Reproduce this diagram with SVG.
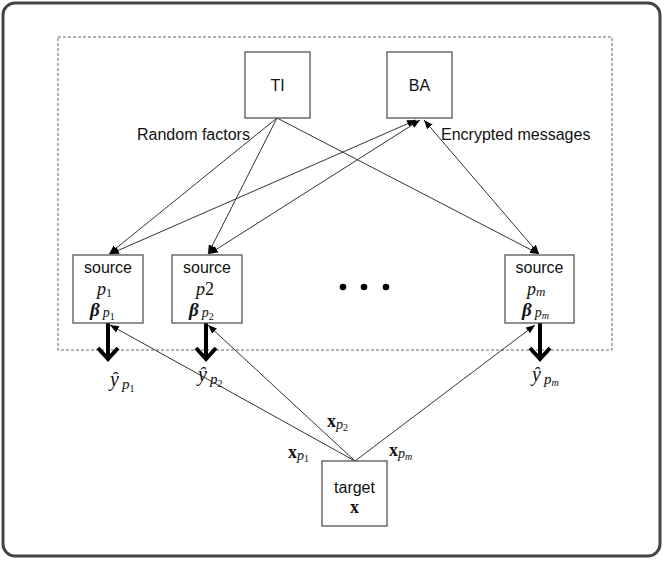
<svg xmlns="http://www.w3.org/2000/svg" width="664" height="561" viewBox="0 0 664 561">
<defs>
<style>
.box{fill:#fff;stroke:#555;stroke-width:1.3}
.ln{stroke:#333;stroke-width:1;fill:none}
.sans{font-family:"Liberation Sans",Arial,sans-serif;font-size:16px;fill:#111}
.ser{font-family:"Liberation Serif","Times New Roman",serif;fill:#111}
.thick{stroke:#000;stroke-width:4;fill:none}
</style>
<marker id="ah" viewBox="0 0 10 10" refX="10" refY="5" markerWidth="9" markerHeight="9" markerUnits="userSpaceOnUse" orient="auto-start-reverse">
<path d="M0,1 L10,5 L0,9 z" fill="#000"/>
</marker>
</defs>
<rect x="3" y="3" width="657" height="553" rx="12" fill="#fff" stroke="#444" stroke-width="3"/>
<rect x="58" y="37" width="554" height="313" fill="none" stroke="#666" stroke-width="1" stroke-dasharray="3,2"/>
<g id="connectors">
<line class="ln" x1="277" y1="118" x2="109" y2="254" marker-end="url(#ah)"/>
<line class="ln" x1="277" y1="118" x2="208" y2="254" marker-end="url(#ah)"/>
<line class="ln" x1="277" y1="118" x2="539" y2="254" marker-end="url(#ah)"/>
<line class="ln" x1="416" y1="120" x2="110" y2="254" marker-start="url(#ah)" marker-end="url(#ah)"/>
<line class="ln" x1="420" y1="120" x2="209" y2="254" marker-start="url(#ah)" marker-end="url(#ah)"/>
<line class="ln" x1="424" y1="120" x2="539" y2="254" marker-start="url(#ah)" marker-end="url(#ah)"/>
<line class="ln" x1="355" y1="461" x2="110" y2="325" marker-end="url(#ah)"/>
<line class="ln" x1="355" y1="461" x2="208" y2="325" marker-end="url(#ah)"/>
<line class="ln" x1="355" y1="461" x2="535" y2="325" marker-end="url(#ah)"/>
<line class="thick" x1="108" y1="323" x2="108" y2="359"/>
<polyline class="thick" points="98,348 108,359 118,348"/>
<line class="thick" x1="206" y1="323" x2="206" y2="359"/>
<polyline class="thick" points="196,348 206,359 216,348"/>
<line class="thick" x1="540" y1="323" x2="540" y2="359"/>
<polyline class="thick" points="530,348 540,359 550,348"/>
</g>
<g id="TI"><rect class="box" x="245" y="52" width="65" height="66"/><text class="sans" x="277.5" y="91" text-anchor="middle">TI</text></g>
<g id="BA"><rect class="box" x="387" y="52" width="65" height="66"/><text class="sans" x="419.5" y="91" text-anchor="middle">BA</text></g>
<g id="source1"><rect class="box" x="73" y="255" width="70" height="68"/>
<text class="sans" x="108" y="273" text-anchor="middle">source</text>
<text class="ser" x="97" y="295" font-size="18" font-style="italic">p<tspan font-size="12" font-style="normal" dy="2">1</tspan></text>
<text class="ser" x="90" y="316" font-size="19" font-style="italic" font-weight="bold">β<tspan font-size="14" font-weight="normal" dx="3" dy="1">p</tspan><tspan font-size="10" font-style="normal" font-weight="normal" dy="3">1</tspan></text>
</g>
<g id="source2"><rect class="box" x="172" y="255" width="70" height="68"/>
<text class="sans" x="207" y="273" text-anchor="middle">source</text>
<text class="ser" x="196" y="295" font-size="18" font-style="italic">p<tspan font-style="normal">2</tspan></text>
<text class="ser" x="189" y="316" font-size="19" font-style="italic" font-weight="bold">β<tspan font-size="14" font-weight="normal" dx="3" dy="1">p</tspan><tspan font-size="10" font-style="normal" font-weight="normal" dy="3">2</tspan></text>
</g>
<g id="sourcem"><rect class="box" x="505" y="255" width="69" height="68"/>
<text class="sans" x="539.5" y="273" text-anchor="middle">source</text>
<text class="ser" x="527" y="295" font-size="18" font-style="italic">p<tspan font-size="13" dy="1">m</tspan></text>
<text class="ser" x="522" y="316" font-size="19" font-style="italic" font-weight="bold">β<tspan font-size="14" font-weight="normal" dx="3" dy="1">p</tspan><tspan font-size="10" font-weight="normal" dy="2">m</tspan></text>
</g>
<g id="target"><rect class="box" x="322" y="461" width="65" height="65"/>
<text class="sans" x="354.5" y="493" text-anchor="middle">target</text>
<text class="ser" x="354.5" y="513" font-size="18" font-weight="bold" text-anchor="middle">x</text>
</g>
<g id="labels">
<text class="sans" x="137" y="140">Random factors</text>
<text class="sans" x="441" y="140">Encrypted messages</text>
<circle cx="343" cy="287" r="3.3" fill="#000"/>
<circle cx="364" cy="287" r="3.3" fill="#000"/>
<circle cx="386" cy="287" r="3.3" fill="#000"/>
<text class="ser" x="110" y="386" font-size="20" font-style="italic">ŷ<tspan font-size="15" dx="3" dy="3">p</tspan><tspan font-size="10" font-style="normal" dy="3">1</tspan></text>
<text class="ser" x="198" y="381" font-size="20" font-style="italic">ŷ<tspan font-size="15" dx="3" dy="3">p</tspan><tspan font-size="10" font-style="normal" dy="3">2</tspan></text>
<text class="ser" x="532" y="381" font-size="20" font-style="italic">ŷ<tspan font-size="15" dx="3" dy="3">p</tspan><tspan font-size="10" dy="2">m</tspan></text>
<text class="ser" x="327" y="427" font-size="18" font-weight="bold">x<tspan font-size="14" font-style="italic" font-weight="normal" dy="2">p</tspan><tspan font-size="10" font-weight="normal" dy="2">2</tspan></text>
<text class="ser" x="288" y="458" font-size="18" font-weight="bold">x<tspan font-size="14" font-style="italic" font-weight="normal" dy="2">p</tspan><tspan font-size="10" font-weight="normal" dy="2">1</tspan></text>
<text class="ser" x="389" y="456" font-size="18" font-weight="bold">x<tspan font-size="14" font-style="italic" font-weight="normal" dy="2">p</tspan><tspan font-size="10" font-style="italic" font-weight="normal" dy="2">m</tspan></text>
</g>
</svg>
